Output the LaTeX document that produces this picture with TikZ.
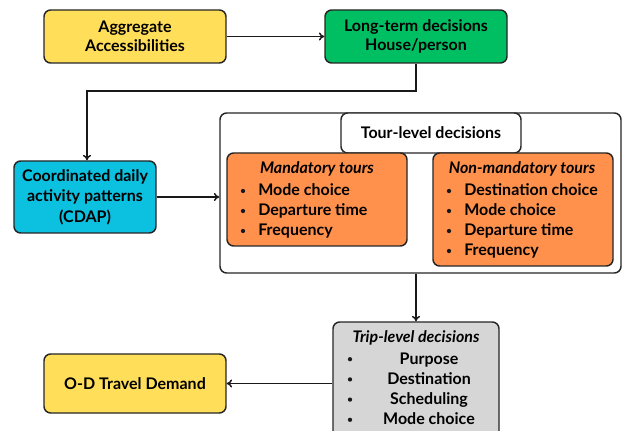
\documentclass[tikz,border=0pt]{standalone}
\usepackage{fontspec}
\setmainfont{Lato}
\usetikzlibrary{arrows.meta,fit}
\definecolor{cyellow}{HTML}{FFDE59}
\definecolor{cgreen}{HTML}{00BF63}
\definecolor{ccyan}{HTML}{0CC0DF}
\definecolor{corange}{HTML}{FF914D}
\definecolor{cgray}{HTML}{D6D6D6}
\begin{document}
\begin{tikzpicture}[x=0.75pt,y=-0.75pt,
  box/.style={draw=black!85, line width=1.1pt, rounded corners=5pt, inner sep=0pt},
  txt/.style={font=\fontsize{12}{14.3}\selectfont\bfseries, align=center, inner sep=0pt},
  item/.style={font=\fontsize{12}{14.3}\selectfont\bfseries, inner sep=0pt, text height=8.6pt, text depth=2.6pt},
  dot/.style={circle, fill=black!90, inner sep=0pt, minimum size=3.2pt},
  conn/.style={line width=1.1pt, draw=black!90, -{To[length=4pt,width=6pt]}}]
\useasboundingbox (0,0) rectangle (622,431);
% boxes
\node[box, fill=cyellow, fit={(44,10)(226,63)}] (agg) {};
\node[txt] at (agg.center) {Aggregate\\Accessibilities};
\node[box, fill=cgreen, fit={(325,10)(507,63)}] (lt) {};
\node[txt] at (lt.center) {Long-term decisions\\House/person};
\node[box, fill=ccyan, fit={(14,161)(156,233)}] (cdap) {};
\node[txt, font=\fontsize{12}{15.4}\selectfont\bfseries] at (cdap.center) {Coordinated daily\\activity patterns\\(CDAP)};
\node[box, fill=white, fit={(220,113)(621,273)}] (outer) {};
\node[box, fill=white, fit={(341,113)(521,153)}] (tour) {};
\node[txt] at (tour.center) {Tour-level decisions};
\node[box, fill=corange, fit={(227,153)(407,246)}] (mand) {};
\node[box, fill=corange, fit={(433,153)(613,266)}] (nonm) {};
\node[box, fill=cgray, fit={(333,322)(499,445)}] (trip) {};
\node[box, fill=cyellow, fit={(44,354)(226,413)}] (od) {};
\node[txt] at (od.center) {O-D Travel Demand};
% mandatory list
\node[item] at (317,170) {\itshape Mandatory tours};
\foreach \t [count=\i] in {Mode choice, Departure time, Frequency}{
  \node[dot] at (243,{171+20*\i}) {};
  \node[item, anchor=west] at (258,{172+20*\i}) {\t};
}
% non-mandatory list
\node[item] at (522,170) {\itshape Non-mandatory tours};
\foreach \t [count=\i] in {Destination choice, Mode choice, Departure time, Frequency}{
  \node[dot] at (449,{171+20*\i}) {};
  \node[item, anchor=west] at (464,{172+20*\i}) {\t};
}
% trip list
\node[item] at (416,339) {\itshape Trip-level decisions};
\foreach \t [count=\i] in {Purpose, Destination, Scheduling, Mode choice}{
  \node[dot] at (350,{339+20.2*\i}) {};
  \node[item] at (429,{340+20.2*\i}) {\t};
}
% connectors
\coordinate (bend) at (87,91);
\draw[conn] (agg.east) -- (lt.west);
\draw[conn] (lt.south) |- (bend) -- (bend |- cdap.north);
\draw[conn] (cdap.east) -- (cdap.east -| outer.west);
\draw[conn] (trip.north |- outer.south) -- (trip.north);
\draw[conn] (trip.west |- od.east) -- (od.east);
\end{tikzpicture}
\end{document}
